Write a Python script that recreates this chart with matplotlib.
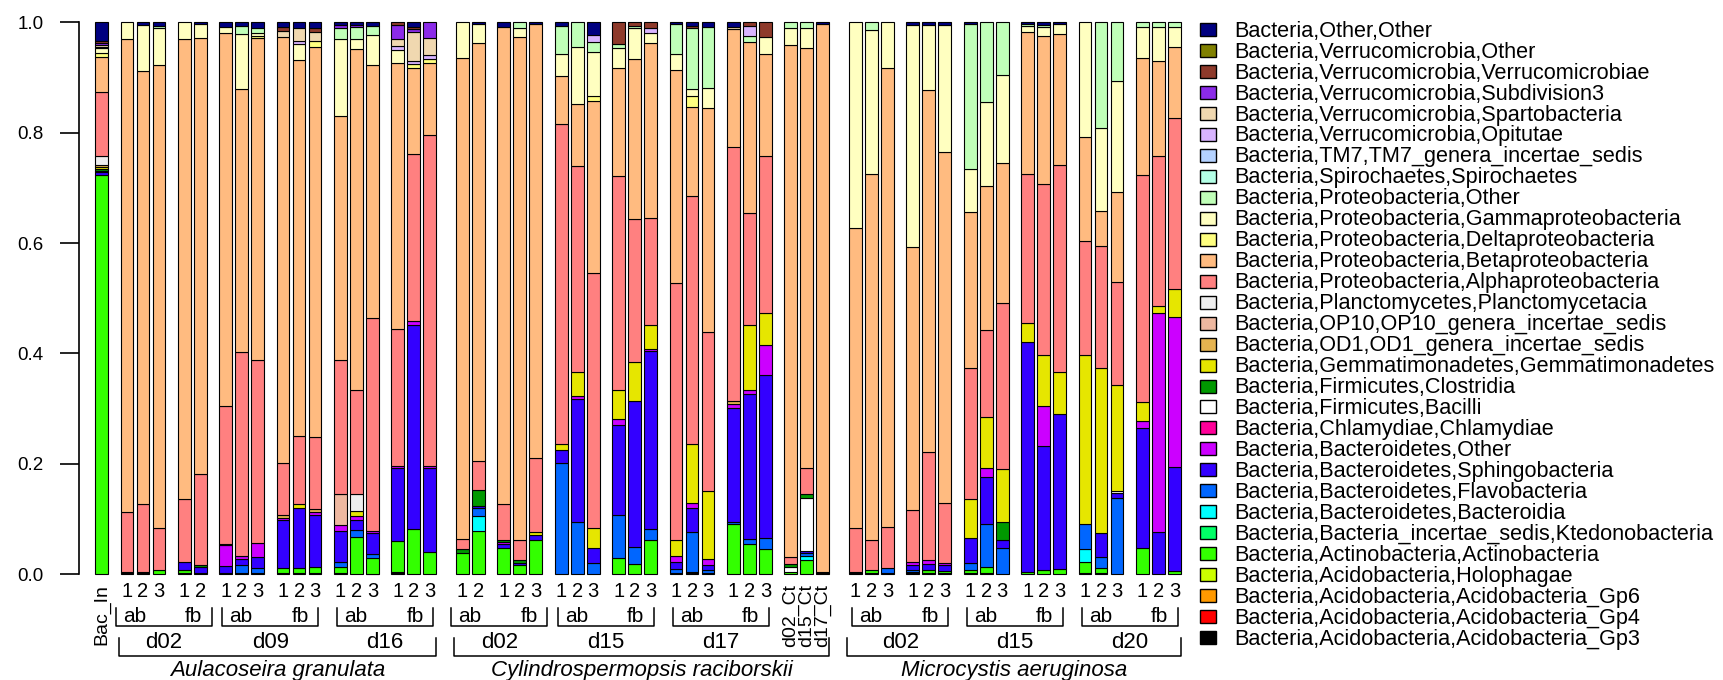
import numpy as np
import matplotlib
matplotlib.use("Agg")
import matplotlib.pyplot as plt
from matplotlib.patches import Rectangle
from matplotlib.transforms import Affine2D, blended_transform_factory

plt.rcParams['font.family'] = ['Liberation Sans', 'DejaVu Sans']

# ---- taxa, legend order (top of the stack first) ----
taxa = [
    "Bacteria,Other,Other",
    "Bacteria,Verrucomicrobia,Other",
    "Bacteria,Verrucomicrobia,Verrucomicrobiae",
    "Bacteria,Verrucomicrobia,Subdivision3",
    "Bacteria,Verrucomicrobia,Spartobacteria",
    "Bacteria,Verrucomicrobia,Opitutae",
    "Bacteria,TM7,TM7_genera_incertae_sedis",
    "Bacteria,Spirochaetes,Spirochaetes",
    "Bacteria,Proteobacteria,Other",
    "Bacteria,Proteobacteria,Gammaproteobacteria",
    "Bacteria,Proteobacteria,Deltaproteobacteria",
    "Bacteria,Proteobacteria,Betaproteobacteria",
    "Bacteria,Proteobacteria,Alphaproteobacteria",
    "Bacteria,Planctomycetes,Planctomycetacia",
    "Bacteria,OP10,OP10_genera_incertae_sedis",
    "Bacteria,OD1,OD1_genera_incertae_sedis",
    "Bacteria,Gemmatimonadetes,Gemmatimonadetes",
    "Bacteria,Firmicutes,Clostridia",
    "Bacteria,Firmicutes,Bacilli",
    "Bacteria,Chlamydiae,Chlamydiae",
    "Bacteria,Bacteroidetes,Other",
    "Bacteria,Bacteroidetes,Sphingobacteria",
    "Bacteria,Bacteroidetes,Flavobacteria",
    "Bacteria,Bacteroidetes,Bacteroidia",
    "Bacteria,Bacteria_incertae_sedis,Ktedonobacteria",
    "Bacteria,Actinobacteria,Actinobacteria",
    "Bacteria,Acidobacteria,Holophagae",
    "Bacteria,Acidobacteria,Acidobacteria_Gp6",
    "Bacteria,Acidobacteria,Acidobacteria_Gp4",
    "Bacteria,Acidobacteria,Acidobacteria_Gp3",
]
colors = [
    "#000080", "#808000", "#8E3A2B", "#8B2BE8", "#F0D8B0", "#D8B4FF",
    "#B4D2FF", "#B4FFE6", "#C0FFB8", "#FFFFC0", "#FFFF80", "#FFBB80",
    "#FF8080", "#EEEEEE", "#EEB8A0", "#E6B450", "#E6E600", "#009900",
    "#FFFFFF", "#FF0099", "#CC00FF", "#3300FF", "#0066FF", "#00FFFF",
    "#00FF66", "#33FF00", "#CCFF00", "#FF9900", "#FF0000", "#000000",
]

# ---- sample layout: (species, day, filter, n bars) ----
species_names = ["Aulacoseira granulata", "Cylindrospermopsis raciborskii",
                 "Microcystis aeruginosa"]
groups = [
    (None, None, None, 1),
    (0, "d02", "ab", 3), (0, "d02", "fb", 2),
    (0, "d09", "ab", 3), (0, "d09", "fb", 3),
    (0, "d16", "ab", 3), (0, "d16", "fb", 3),
    (1, "d02", "ab", 2), (1, "d02", "fb", 3),
    (1, "d15", "ab", 3), (1, "d15", "fb", 3),
    (1, "d17", "ab", 3), (1, "d17", "fb", 3),
    (1, "Ct", None, 3),
    (2, "d02", "ab", 3), (2, "d02", "fb", 3),
    (2, "d15", "ab", 3), (2, "d15", "fb", 3),
    (2, "d20", "ab", 3), (2, "d20", "fb", 3),
]
control_labels = ["d02_Ct", "d15_Ct", "d17_Ct"]
inoculum_label = "Bac_In"

# ---- relative abundances per bar (Bac_In + Aulacoseira | Cylindrospermopsis | Microcystis) ----
gp3 = ([0, 0.002, 0.003, 0, 0.003, 0, 0.003, 0.002, 0.002, 0.002, 0.003, 0.002, 0.003, 0, 0.001, 0.004, 0, 0]
       + [0, 0, 0, 0, 0, 0, 0, 0, 0, 0, 0, 0.003, 0.005, 0.002, 0, 0, 0, 0, 0, 0.004]
       + [0.004, 0.002, 0.002, 0.004, 0.002, 0.002, 0.002, 0.002, 0, 0, 0, 0, 0.002, 0.002, 0, 0, 0, 0])
gp4 = [0.0] * 56
gp6 = [0.0] * 56
holo = [0.0] * 56
act = ([0.723, 0.002, 0.002, 0.007, 0.005, 0.003, 0, 0, 0, 0.01, 0.009, 0.012, 0.01, 0.067, 0.029, 0.056, 0.082, 0.04]
       + [0.038, 0.079, 0.047, 0.016, 0.062, 0, 0, 0, 0.029, 0.019, 0.063, 0, 0, 0, 0.092, 0.055, 0.046, 0.005, 0.026, 0]
       + [0, 0.006, 0, 0, 0.006, 0.004, 0.005, 0.012, 0, 0.005, 0.008, 0.01, 0.021, 0.009, 0, 0.048, 0, 0.006])
kted = [0.0] * 56
bdia = ([0] * 18
        + [0, 0.027, 0, 0, 0, 0, 0, 0, 0, 0, 0, 0, 0, 0, 0, 0, 0, 0, 0.007, 0]
        + [0, 0, 0, 0, 0, 0, 0, 0, 0, 0, 0, 0, 0.022, 0, 0, 0, 0, 0])
fla = ([0, 0, 0, 0, 0, 0, 0, 0.014, 0.01, 0, 0, 0, 0.009, 0.014, 0.006, 0, 0, 0]
       + [0, 0.014, 0, 0, 0, 0.201, 0.095, 0.02, 0.079, 0.031, 0.019, 0.007, 0.071, 0.005, 0.002, 0.009, 0.019, 0, 0.005, 0]
       + [0, 0, 0.009, 0.004, 0, 0, 0.014, 0.077, 0.047, 0, 0, 0, 0.047, 0.021, 0.138, 0, 0, 0])
sph = ([0.006, 0, 0, 0, 0.014, 0.011, 0.012, 0.011, 0.02, 0.086, 0.108, 0.094, 0.056, 0.018, 0.039, 0.132, 0.37, 0.152]
       + [0, 0.004, 0.008, 0.005, 0.009, 0.024, 0.223, 0.028, 0.163, 0.264, 0.323, 0.013, 0.044, 0.01, 0.208, 0.262, 0.296, 0, 0.004, 0]
       + [0, 0, 0, 0.008, 0.01, 0.01, 0.045, 0.086, 0.016, 0.416, 0.225, 0.28, 0, 0.043, 0.009, 0.217, 0.076, 0.189])
bact_oth = ([0.002, 0, 0, 0, 0, 0, 0.038, 0.006, 0.024, 0.004, 0, 0.004, 0.011, 0.006, 0.003, 0.004, 0.007, 0.004]
            + [0, 0, 0.003, 0, 0, 0, 0.005, 0, 0.011, 0, 0.004, 0.01, 0.009, 0.01, 0.006, 0.008, 0.054, 0, 0, 0]
            + [0, 0, 0, 0.007, 0.008, 0.004, 0, 0.015, 0, 0, 0.071, 0, 0, 0, 0, 0.012, 0.397, 0.272])
chl = ([0, 0, 0, 0, 0, 0, 0.002, 0, 0, 0, 0, 0, 0, 0, 0, 0, 0, 0]
       + [0] * 20 + [0] * 18)
bacilli = ([0] * 18
           + [0, 0, 0, 0, 0, 0, 0, 0, 0, 0, 0, 0, 0, 0, 0, 0, 0, 0.009, 0.096, 0]
           + [0, 0, 0, 0, 0, 0, 0, 0, 0, 0, 0, 0, 0, 0, 0.004, 0, 0, 0])
clo = ([0.003, 0, 0, 0, 0, 0.003, 0, 0, 0, 0, 0, 0, 0, 0, 0, 0, 0, 0]
       + [0.008, 0.028, 0.004, 0.005, 0, 0, 0, 0, 0, 0, 0, 0, 0, 0, 0, 0, 0, 0.005, 0.007, 0]
       + [0, 0, 0, 0, 0, 0, 0, 0, 0.032, 0, 0, 0, 0, 0, 0, 0, 0, 0])
gem = ([0.004, 0, 0, 0, 0, 0, 0, 0, 0, 0, 0.008, 0, 0, 0.01, 0, 0, 0, 0]
       + [0, 0, 0, 0, 0.006, 0.011, 0.044, 0.035, 0.051, 0.071, 0.043, 0.03, 0.107, 0.123, 0, 0.118, 0.058, 0, 0, 0]
       + [0, 0, 0, 0, 0, 0, 0.07, 0.093, 0.095, 0.035, 0.093, 0.076, 0.305, 0.298, 0.192, 0.036, 0.013, 0.049])
od1 = ([0.004, 0, 0, 0, 0, 0, 0, 0, 0, 0.005, 0, 0.006, 0, 0, 0, 0, 0, 0]
       + [0, 0, 0, 0, 0, 0, 0, 0, 0, 0, 0, 0, 0, 0, 0.006, 0, 0, 0, 0, 0]
       + [0] * 18)
op10 = ([0, 0, 0, 0, 0, 0, 0, 0, 0, 0, 0, 0, 0.056, 0, 0, 0, 0, 0]
        + [0] * 20 + [0] * 18)
planct = ([0.016, 0, 0, 0, 0, 0, 0, 0, 0, 0, 0, 0, 0, 0.03, 0, 0, 0, 0]
          + [0] * 20 + [0] * 18)
alpha = ([0.116, 0.108, 0.122, 0.076, 0.115, 0.164, 0.25, 0.37, 0.333, 0.094, 0.123, 0.131, 0.244, 0.188, 0.387, 0.248, 0.302, 0.6]
         + [0.018, 0.054, 0.065, 0.036, 0.133, 0.58, 0.372, 0.462, 0.388, 0.258, 0.194, 0.464, 0.449, 0.289, 0.461, 0.202, 0.284, 0.012, 0.047, 0]
         + [0.079, 0.054, 0.075, 0.094, 0.195, 0.11, 0.237, 0.158, 0.302, 0.269, 0.31, 0.376, 0.207, 0.222, 0.187, 0.41, 0.271, 0.31])
beta = ([0.064, 0.857, 0.785, 0.84, 0.832, 0.791, 0.675, 0.477, 0.582, 0.772, 0.681, 0.706, 0.442, 0.618, 0.457, 0.483, 0.157, 0.131]
        + [0.871, 0.757, 0.865, 0.912, 0.787, 0.086, 0.113, 0.312, 0.196, 0.291, 0.316, 0.387, 0.162, 0.405, 0.212, 0.311, 0.186, 0.927, 0.762, 0.993]
        + [0.544, 0.664, 0.831, 0.476, 0.656, 0.635, 0.284, 0.261, 0.254, 0.257, 0.268, 0.237, 0.188, 0.064, 0.162, 0.213, 0.173, 0.129])
delta = ([0.006, 0, 0, 0, 0, 0, 0, 0, 0.004, 0, 0, 0.012, 0, 0, 0, 0, 0.006, 0.007]
         + [0, 0, 0, 0, 0, 0, 0, 0.01, 0, 0, 0, 0, 0.019, 0, 0, 0, 0, 0, 0, 0]
         + [0] * 18)
gamma = ([0.01, 0.031, 0.083, 0.067, 0.031, 0.025, 0.011, 0.098, 0.005, 0, 0.028, 0, 0.138, 0.018, 0.055, 0.022, 0, 0]
         + [0.065, 0.034, 0, 0.016, 0, 0.041, 0.103, 0.079, 0.036, 0.055, 0.018, 0.029, 0.013, 0.037, 0, 0, 0.03, 0.032, 0.035, 0]
         + [0.373, 0.26, 0.083, 0.402, 0.118, 0.23, 0.077, 0.152, 0.159, 0.012, 0.017, 0.018, 0.208, 0.15, 0.202, 0.056, 0.062, 0.037])
prot_oth = ([0.002, 0, 0, 0.003, 0, 0, 0, 0.015, 0.009, 0, 0, 0, 0.021, 0.023, 0.016, 0, 0, 0]
            + [0, 0, 0, 0.01, 0, 0.05, 0.045, 0.019, 0.007, 0.005, 0, 0.054, 0.11, 0.111, 0, 0.01, 0, 0.01, 0.011, 0]
            + [0, 0.014, 0, 0, 0, 0, 0.263, 0.144, 0.095, 0.003, 0.003, 0, 0, 0.191, 0.106, 0.008, 0.008, 0.008])
spiro = [0.0] * 56
tm7 = [0.0] * 56
opit = ([0, 0, 0, 0, 0, 0, 0, 0, 0, 0, 0.006, 0, 0, 0, 0, 0.008, 0.006, 0.006]
        + [0, 0, 0, 0, 0, 0, 0, 0.012, 0, 0, 0.009, 0, 0, 0, 0, 0.018, 0, 0, 0, 0]
        + [0] * 18)
sparto = ([0.003, 0, 0, 0, 0, 0, 0, 0, 0, 0.011, 0.023, 0.016, 0, 0, 0, 0.013, 0.053, 0.032]
          + [0, 0, 0, 0, 0, 0, 0, 0, 0, 0, 0, 0, 0, 0, 0.005, 0, 0, 0, 0, 0]
          + [0] * 18)
subdiv3 = ([0.003, 0, 0, 0, 0, 0, 0, 0, 0, 0, 0, 0, 0.005, 0.004, 0, 0.025, 0.004, 0.028]
           + [0] * 20 + [0] * 18)
verruco = ([0.004, 0, 0, 0, 0, 0, 0, 0, 0, 0.007, 0, 0.006, 0, 0, 0, 0.005, 0.005, 0]
           + [0, 0, 0, 0, 0, 0, 0, 0, 0.04, 0.006, 0.011, 0, 0.005, 0, 0, 0.007, 0.027, 0, 0, 0]
           + [0] * 18)
verr_oth = [0.0] * 56
other = ([0.034, 0, 0.005, 0.007, 0, 0.003, 0.009, 0.007, 0.011, 0.009, 0.011, 0.011, 0.005, 0.004, 0.007, 0, 0.008, 0]
         + [0, 0.003, 0.008, 0, 0.003, 0.007, 0, 0.023, 0, 0, 0, 0.003, 0.006, 0.008, 0.008, 0, 0, 0, 0, 0.003]
         + [0, 0, 0, 0.005, 0.005, 0.005, 0.003, 0, 0, 0.003, 0.005, 0.003, 0, 0, 0, 0, 0, 0])

values = [other, verr_oth, verruco, subdiv3, sparto, opit, tm7, spiro, prot_oth,
          gamma, delta, beta, alpha, planct, op10, od1, gem, clo, bacilli, chl,
          bact_oth, sph, fla, bdia, kted, act, holo, gp6, gp4, gp3]

for name, v in zip(taxa, values):
    assert len(v) == 56, (name, len(v))
tot = np.sum(np.array(values, dtype=float), axis=0)
assert np.all(np.abs(tot - 1) < 0.015), np.round(tot, 3)

# ---- x positions ----
BAR_W = 0.8
GROUP_GAP = 0.5875
SPECIES_GAP = 1.0375
xs = []
group_idx = []
cur = -1.0
prev_sp = None
for i, (sp, day, filt, n) in enumerate(groups):
    if i > 0:
        cur += SPECIES_GAP if (prev_sp is not None and sp != prev_sp) else GROUP_GAP
    idx = []
    for k in range(n):
        cur += 1.0
        xs.append(cur)
        idx.append(len(xs) - 1)
    group_idx.append(idx)
    prev_sp = sp
xs = np.array(xs)

# ---- figure ----
W, H = 1724, 680
fig = plt.figure(figsize=(W / 100, H / 100), dpi=100)
px = Affine2D().scale(1 / W, -1 / H).translate(0, 1) + fig.transFigure

left_px, right_px, top_px, bot_px = 78.7, 1190, 22.3, 574.3
ax = fig.add_axes([left_px / W, 1 - bot_px / H, (right_px - left_px) / W, (bot_px - top_px) / H])
x_left = xs[0] - (101.5 - left_px) / 16
ax.set_xlim(x_left, x_left + (right_px - left_px) / 16)
ax.set_ylim(0, 1)
ax.autoscale(False)

bottom = np.zeros(56)
for v, c in zip(values[::-1], colors[::-1]):
    v = np.array(v, dtype=float)
    m = v > 0
    if m.any():
        ax.bar(xs[m], v[m], bottom=bottom[m], width=BAR_W, color=c,
               edgecolor="black", linewidth=0.8, clip_on=False)
    bottom += v

for s in ["top", "right", "bottom"]:
    ax.spines[s].set_visible(False)
ax.spines["left"].set_bounds(0, 1)
ax.spines["left"].set_linewidth(1.2)
ax.set_xticks([])
ax.set_yticks([0, 0.2, 0.4, 0.6, 0.8, 1.0])
ax.set_yticklabels(["0.0", "0.2", "0.4", "0.6", "0.8", "1.0"])
ax.tick_params(axis="y", length=13.5, width=1.2, pad=12, labelsize=13.5)

bt = blended_transform_factory(ax.transData, px)
LW = 1.1

# replicate numbers, rotated sample names
for (sp, day, filt, n), idx in zip(groups, group_idx):
    if sp is None:
        ax.text(xs[idx[0]], 584, inoculum_label, rotation=90, ha="center", va="top",
                transform=bt, fontsize=14)
    elif day == "Ct":
        for j, lab in zip(idx, control_labels):
            ax.text(xs[j], 584, lab, rotation=90, ha="center", va="top",
                    transform=bt, fontsize=14)
    else:
        for k, j in enumerate(idx):
            ax.text(xs[j], 596.7, str(k + 1), ha="center", va="baseline",
                    transform=bt, fontsize=14.5)

# ab / fb brackets with day labels
half = 3.0
for gi in range(len(groups) - 1):
    g1, g2 = groups[gi], groups[gi + 1]
    if g1[2] == "ab" and g2[2] == "fb" and g1[0] == g2[0] and g1[1] == g2[1]:
        lo = xs[group_idx[gi][0]] - BAR_W / 2
        hi = xs[group_idx[gi + 1][-1]] + BAR_W / 2
        cx = (lo + hi) / 2
        ax.plot([cx - half, cx - half, cx + half, cx + half], [608, 626, 626, 608],
                color="black", lw=LW, transform=bt, clip_on=False)
        ax.text(cx - half + 0.45, 621.5, "ab", ha="left", va="baseline",
                transform=bt, fontsize=15)
        ax.text(cx + half - 0.6, 621.5, "fb", ha="right", va="baseline",
                transform=bt, fontsize=15)
        ax.text(cx, 648.3, g1[1], ha="center", va="baseline", transform=bt, fontsize=16)

# species brackets
for si, sname in enumerate(species_names):
    bars = [j for g, idx in zip(groups, group_idx) if g[0] == si for j in idx]
    lo = xs[bars[0]] - BAR_W / 2 - 0.1
    hi = xs[bars[-1]] + BAR_W / 2
    ax.plot([lo, lo, hi, hi], [638, 656, 656, 638], color="black", lw=LW,
            transform=bt, clip_on=False)
    ax.text((lo + hi) / 2, 676, sname, ha="center", va="baseline", style="italic",
            transform=bt, fontsize=16)

# legend
for i, (name, c) in enumerate(zip(taxa, colors)):
    yc = 29.7 + i * 20.96
    fig.add_artist(Rectangle((1200, yc - 6.5), 16.5, 13, transform=px,
                             facecolor=c, edgecolor="black", lw=1.0))
    fig.text(1234.3, yc + 7, name, transform=px, ha="left", va="baseline", fontsize=15.6)

fig.savefig("out.png", dpi=100)
